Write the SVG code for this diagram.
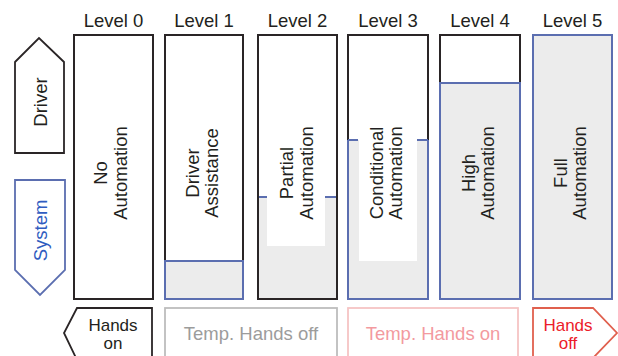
<svg xmlns="http://www.w3.org/2000/svg" width="618" height="356" viewBox="0 0 618 356">
  <style>
    text { font-family: "Liberation Sans", Arial, sans-serif; font-size: 18.5px; fill: #231f20; }
    .hdr { text-anchor: middle; }
    .vt { text-anchor: middle; }
    .tag { text-anchor: middle; font-size: 17px; }
    .blk { fill: none; stroke: #2a2526; stroke-width: 2; }
    .blu { fill: none; stroke: #5b6eb0; stroke-width: 2; }
    .gry { fill: #ececec; }
    .wht { fill: #ffffff; }
  </style>
  <rect width="618" height="356" fill="#ffffff"/>

  <!-- column headers -->
  <g id="headers">
    <text class="hdr" x="113.5" y="27">Level 0</text>
    <text class="hdr" x="204" y="27">Level 1</text>
    <text class="hdr" x="297.5" y="27">Level 2</text>
    <text class="hdr" x="388" y="27">Level 3</text>
    <text class="hdr" x="480" y="27">Level 4</text>
    <text class="hdr" x="572.5" y="27">Level 5</text>
  </g>

  <!-- side arrows -->
  <g id="driver">
    <polygon points="15,62 39,38 64,62 64,153 15,153" fill="#ffffff" stroke="#2a2526" stroke-width="1.8"/>
    <text class="vt" transform="translate(47,102) rotate(-90)">Driver</text>
  </g>
  <g id="system">
    <polygon points="15,180 65,180 65,270 40,295 15,270" fill="#ffffff" stroke="#5b6eb0" stroke-width="1.8"/>
    <text class="vt" transform="translate(47,230.5) rotate(-90)" style="fill:#2f5cc0">System</text>
  </g>

  <!-- Level 0 -->
  <g id="level0">
    <rect class="blk" x="74" y="35" width="79" height="264" fill="#ffffff"/>
    <text class="vt" transform="translate(113.5,173) rotate(-90)"><tspan x="0" y="-7">No</tspan><tspan x="0" y="13.5">Automation</tspan></text>
  </g>

  <!-- Level 1 -->
  <g id="level1">
    <rect class="gry" x="165" y="261" width="78" height="38"/>
    <path class="blk" d="M165,261 V35 H243 V261"/>
    <rect class="blu" x="165" y="261" width="78" height="38"/>
    <text class="vt" transform="translate(204,173) rotate(-90)"><tspan x="0" y="-5">Driver</tspan><tspan x="0" y="14">Assistance</tspan></text>
  </g>

  <!-- Level 2 -->
  <g id="level2">
    <rect class="gry" x="258" y="197" width="79" height="102"/>
    <rect class="wht" x="267" y="197" width="58" height="49"/>
    <rect class="blk" x="258" y="35" width="79" height="264"/>
    <path class="blu" d="M259,197 H267 M325,197 H336"/>
    <text class="vt" transform="translate(297.5,173) rotate(-90)"><tspan x="0" y="-4.5">Partial</tspan><tspan x="0" y="15">Automation</tspan></text>
  </g>

  <!-- Level 3 -->
  <g id="level3">
    <rect class="gry" x="348" y="140" width="80" height="159"/>
    <rect class="wht" x="359" y="140" width="58" height="121"/>
    <path class="blk" d="M348,140 V35 H428 V140"/>
    <path class="blu" d="M348,140 V299 H428 V140 M348,140 H358 M417,140 H428"/>
    <text class="vt" transform="translate(388,173) rotate(-90)"><tspan x="0" y="-5">Conditional</tspan><tspan x="0" y="14">Automation</tspan></text>
  </g>

  <!-- Level 4 -->
  <g id="level4">
    <rect class="gry" x="440" y="83" width="80" height="216"/>
    <path class="blk" d="M440,83 V35 H520 V83"/>
    <rect class="blu" x="440" y="83" width="80" height="216"/>
    <text class="vt" transform="translate(480,173) rotate(-90)"><tspan x="0" y="-5">High</tspan><tspan x="0" y="13.5">Automation</tspan></text>
  </g>

  <!-- Level 5 -->
  <g id="level5">
    <rect class="gry" x="533" y="35" width="79" height="264"/>
    <rect class="blu" x="533" y="35" width="79" height="264"/>
    <text class="vt" transform="translate(572.5,173) rotate(-90)"><tspan x="0" y="-5.5">Full</tspan><tspan x="0" y="13">Automation</tspan></text>
  </g>

  <!-- bottom band -->
  <g id="hands-on">
    <polygon points="77,308 152,308 152,360 77,360 64,333" fill="#ffffff" stroke="#2a2526" stroke-width="1.8"/>
    <text class="tag" x="113" y="331">Hands</text>
    <text class="tag" x="113" y="349">on</text>
  </g>
  <g id="temp-hands-off">
    <rect x="165" y="308" width="172" height="52" fill="#ffffff" stroke="#bdbdbd" stroke-width="1.8"/>
    <text class="hdr" x="251" y="340" style="fill:#9c9c9c">Temp. Hands off</text>
  </g>
  <g id="temp-hands-on">
    <rect x="348" y="308" width="170" height="52" fill="#ffffff" stroke="#f6c4c4" stroke-width="1.8"/>
    <text class="hdr" x="433" y="340" style="fill:#f39a9f">Temp. Hands on</text>
  </g>
  <g id="hands-off">
    <polygon points="533,308 593,308 617,333 593,358 533,358" fill="#ffffff" stroke="#e0604e" stroke-width="1.8"/>
    <text class="tag" x="568" y="331" style="fill:#ec1c2a">Hands</text>
    <text class="tag" x="568" y="349" style="fill:#ec1c2a">off</text>
  </g>
</svg>
